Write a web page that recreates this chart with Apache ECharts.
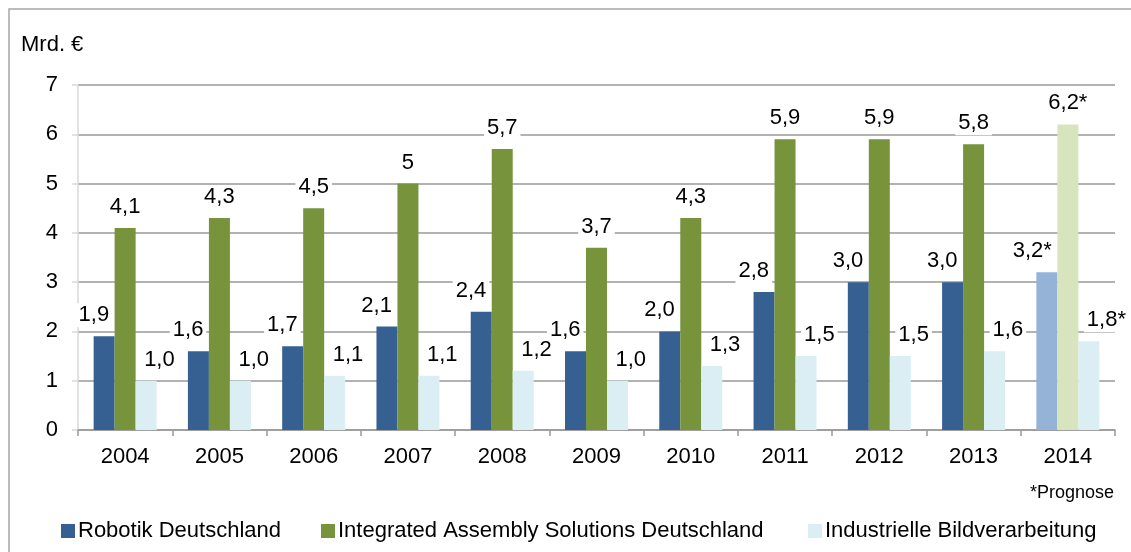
<!DOCTYPE html>
<html>
<head>
<meta charset="utf-8">
<script src="https://cdn.jsdelivr.net/npm/echarts@6/dist/echarts.min.js"></script>
<style>
    html, body { margin: 0; padding: 0; background: #fff; }
    #chart { width: 1131px; height: 552px; }
</style>
</head>
<body>
<div id="chart"></div>
<script>
    // Werte
    const years = ['2004', '2005', '2006', '2007', '2008', '2009', '2010', '2011', '2012', '2013', '2014'];
    const robotik = [1.9, 1.6, 1.7, 2.1, 2.4, 1.6, 2.0, 2.8, 3.0, 3.0, 3.2];
    const assembly = [4.1, 4.3, 4.5, 5.0, 5.7, 3.7, 4.3, 5.9, 5.9, 5.8, 6.2];
    const bildverarbeitung = [1.0, 1.0, 1.1, 1.1, 1.2, 1.0, 1.3, 1.5, 1.5, 1.6, 1.8];
    const yTicks = [0, 1, 2, 3, 4, 5, 6, 7];
    const forecastYear = '2014';

    const names = ['Robotik Deutschland', 'Integrated Assembly Solutions Deutschland', 'Industrielle Bildverarbeitung'];
    const font = "'Liberation Sans', Arial, sans-serif";

    function fmt (v, fixed, idx) {
        let s = fixed ? v.toFixed(1) : String(v);
        s = s.replace('.', ',');
        if (years[idx] === forecastYear) s += '*';
        return s;
    }

    function buildSeries (name, values, color, forecastColor, fixed, align, offsetX) {
        return {
            name: name,
            type: 'bar',
            barWidth: 21,
            barGap: '0%',
            itemStyle: { color: color },
            label: {
                show: true,
                position: 'top',
                distance: 9,
                align: align,
                offset: [offsetX, 0],
                color: '#000',
                fontSize: 22,
                fontFamily: font,
                backgroundColor: '#fff',
                padding: [1, 3],
                formatter: p => fmt(p.value, fixed, p.dataIndex)
            },
            data: values.map((v, i) => years[i] === forecastYear
                ? { value: v, itemStyle: { color: forecastColor } }
                : v)
        };
    }

    const chart = echarts.init(document.getElementById('chart'));
    chart.setOption({
        animation: false,
        textStyle: { fontFamily: font },
        grid: { left: 78, right: 16, top: 85, bottom: 122 },
        legend: [0, 1, 2].map((k, i) => ({
            data: [names[k]],
            left: [56, 316, 803][i],
            top: 515,
            icon: 'rect',
            itemWidth: 14,
            itemHeight: 14,
            itemGap: 0,
            textStyle: { fontSize: 22, color: '#000', fontFamily: font, padding: [0, 0, 0, -2] }
        })),
        graphic: [
            {
                type: 'rect',
                shape: { x: 9, y: 9, width: 1200, height: 600 },
                style: { fill: 'none', stroke: '#a6a6a6', lineWidth: 1.5 },
                silent: true
            },
            {
                type: 'text',
                left: 21,
                top: 34,
                style: { text: 'Mrd. €', fontSize: 22, fill: '#000', fontFamily: font }
            },
            {
                type: 'text',
                right: 17,
                top: 484,
                style: { text: '*Prognose', fontSize: 18, fill: '#000', fontFamily: font }
            }
        ],
        xAxis: {
            type: 'category',
            data: years,
            axisLine: { lineStyle: { color: '#999', width: 1.5 } },
            axisTick: { show: true, length: 6, lineStyle: { color: '#999', width: 1.5 } },
            axisLabel: { color: '#000', fontSize: 22, margin: 16, fontFamily: font }
        },
        yAxis: {
            type: 'value',
            min: yTicks[0],
            max: yTicks[yTicks.length - 1],
            interval: 1,
            axisLine: { show: true, lineStyle: { color: '#d9d9d9', width: 1.5 } },
            axisTick: { show: true, length: 6, lineStyle: { color: '#d9d9d9', width: 1.5 } },
            axisLabel: { color: '#000', fontSize: 22, margin: 20, fontFamily: font },
            splitLine: { lineStyle: { color: '#999', width: 1.5 } }
        },
        series: [
            buildSeries(names[0], robotik, '#376092', '#95b3d7', true, 'right', 8),
            buildSeries(names[1], assembly, '#77933c', '#d7e4bd', false, 'center', 0),
            buildSeries(names[2], bildverarbeitung, '#dbeef4', '#dbeef4', true, 'left', -5)
        ]
    });
</script>
</body>
</html>
